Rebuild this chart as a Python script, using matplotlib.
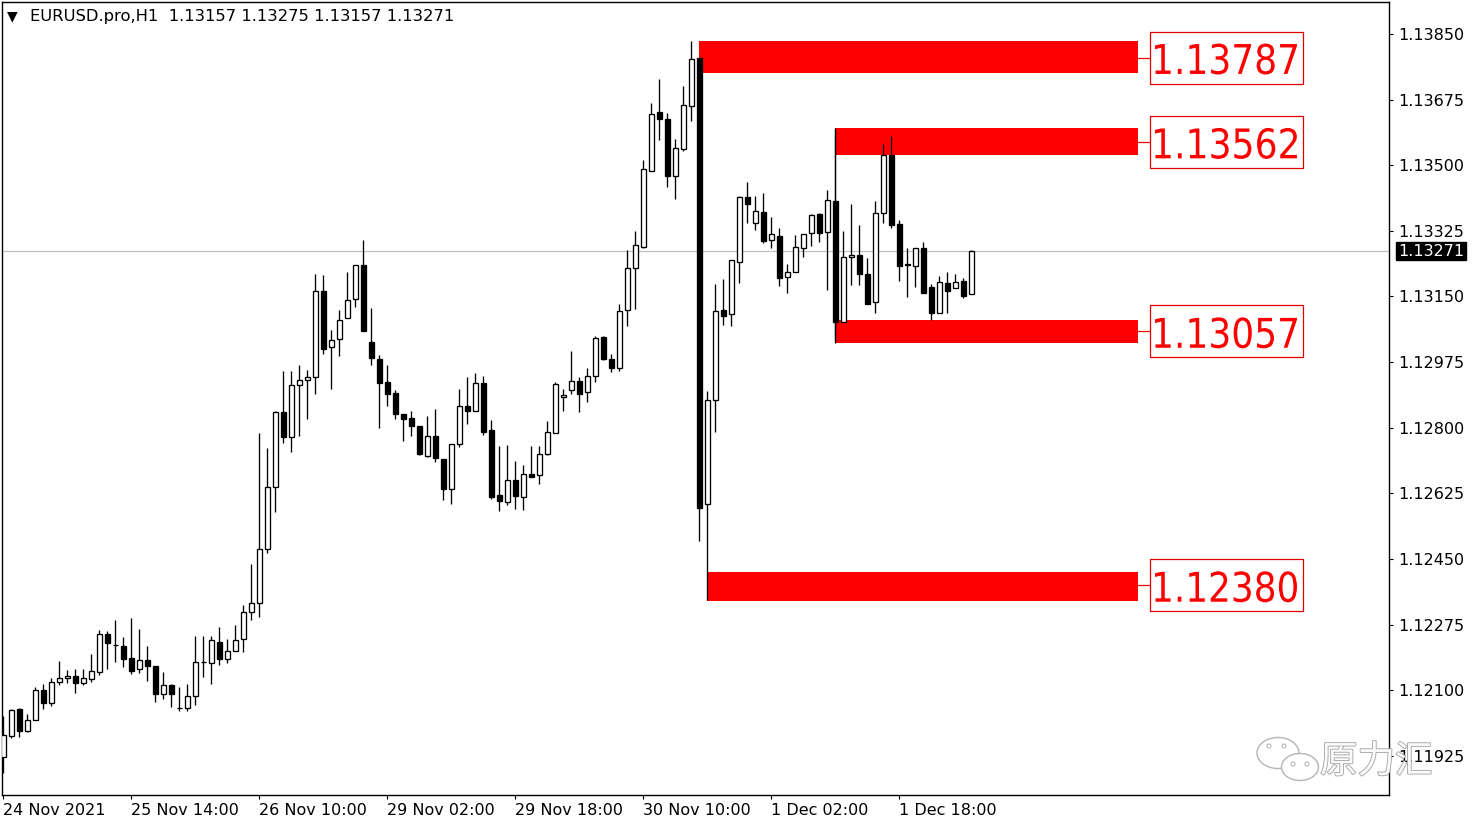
import matplotlib
matplotlib.use('Agg')
import matplotlib.pyplot as plt
import matplotlib.patheffects as pe
import matplotlib.transforms as mtransforms
from matplotlib.patches import Rectangle, Ellipse, PathPatch
from matplotlib.textpath import TextPath
from matplotlib.font_manager import FontProperties
import numpy as np

W, H = 1481, 827

# H1 candles (bar 0 = first visible bar)
opens = [
    1.11921, 1.11979, 1.12050, 1.11992, 1.12022, 1.12101, 1.12067, 1.12121, 1.12132, 1.12137,
    1.12120, 1.12131, 1.12150, 1.12250, 1.12222, 1.12218, 1.12186, 1.12157, 1.12182, 1.12166,
    1.12091, 1.12113, 1.12054, 1.12053, 1.12086, 1.12175, 1.12172, 1.12230, 1.12184, 1.12204,
    1.12236, 1.12310, 1.12332, 1.12478, 1.12641, 1.12841, 1.12776, 1.12913, 1.12926, 1.12935,
    1.13164, 1.13014, 1.13036, 1.13092, 1.13142, 1.13233, 1.13028, 1.12982, 1.12921, 1.12892,
    1.12836, 1.12825, 1.12806, 1.12725, 1.12777, 1.12718, 1.12637, 1.12758, 1.12857, 1.12846,
    1.12918, 1.12793, 1.12620, 1.12603, 1.12660, 1.12616, 1.12678, 1.12673, 1.12729, 1.12787,
    1.12881, 1.12900, 1.12924, 1.12894, 1.12937, 1.13041, 1.12982, 1.12960, 1.13113, 1.13227,
    1.13282, 1.13484, 1.13643, 1.13622, 1.13472, 1.13544, 1.13659, 1.13786, 1.12596, 1.12875,
    1.13113, 1.13102, 1.13242, 1.13414, 1.13345, 1.13375, 1.13300, 1.13310, 1.13201, 1.13216,
    1.13279, 1.13318, 1.13369, 1.13321, 1.13405, 1.13081, 1.13255, 1.13260, 1.13209, 1.13134,
    1.13372, 1.13527, 1.13342, 1.13236, 1.13232, 1.13278, 1.13175, 1.13105, 1.13185, 1.13172,
    1.13191, 1.13157,
]
highs = [
    1.12031, 1.12051, 1.12053, 1.12038, 1.12108, 1.12118, 1.12132, 1.12178, 1.12154, 1.12156,
    1.12156, 1.12197, 1.12261, 1.12258, 1.12287, 1.12242, 1.12293, 1.12263, 1.12218, 1.12166,
    1.12149, 1.12118, 1.12108, 1.12118, 1.12245, 1.12245, 1.12245, 1.12268, 1.12237, 1.12274,
    1.12328, 1.12438, 1.12785, 1.12745, 1.12846, 1.12951, 1.12951, 1.12966, 1.12954, 1.13210,
    1.13207, 1.13060, 1.13113, 1.13214, 1.13233, 1.13300, 1.13118, 1.12993, 1.12967, 1.12900,
    1.12836, 1.12846, 1.12806, 1.12832, 1.12850, 1.12718, 1.12758, 1.12902, 1.12934, 1.12945,
    1.12937, 1.12820, 1.12751, 1.12754, 1.12711, 1.12700, 1.12751, 1.12751, 1.12818, 1.12923,
    1.12903, 1.13004, 1.12935, 1.12958, 1.13044, 1.13044, 1.12996, 1.13129, 1.13273, 1.13324,
    1.13513, 1.13666, 1.13730, 1.13638, 1.13570, 1.13711, 1.13832, 1.13786, 1.12899, 1.13182,
    1.13196, 1.13246, 1.13418, 1.13454, 1.13417, 1.13426, 1.13361, 1.13332, 1.13236, 1.13313,
    1.13316, 1.13370, 1.13372, 1.13434, 1.13596, 1.13324, 1.13396, 1.13340, 1.13252, 1.13404,
    1.13556, 1.13578, 1.13354, 1.13280, 1.13278, 1.13296, 1.13182, 1.13205, 1.13215, 1.13210,
    1.13199, 1.13275,
]
lows = [
    1.11880, 1.11972, 1.11976, 1.11989, 1.12022, 1.12051, 1.12058, 1.12114, 1.12120, 1.12093,
    1.12114, 1.12122, 1.12141, 1.12157, 1.12175, 1.12163, 1.12143, 1.12147, 1.12125, 1.12069,
    1.12077, 1.12056, 1.12044, 1.12045, 1.12061, 1.12136, 1.12118, 1.12168, 1.12172, 1.12204,
    1.12203, 1.12287, 1.12296, 1.12467, 1.12576, 1.12760, 1.12736, 1.12779, 1.12824, 1.12889,
    1.12997, 1.12904, 1.12992, 1.13092, 1.13123, 1.13059, 1.12968, 1.12800, 1.12859, 1.12824,
    1.12765, 1.12779, 1.12728, 1.12723, 1.12709, 1.12608, 1.12597, 1.12749, 1.12811, 1.12846,
    1.12782, 1.12611, 1.12579, 1.12595, 1.12584, 1.12580, 1.12669, 1.12651, 1.12727, 1.12785,
    1.12845, 1.12889, 1.12843, 1.12868, 1.12923, 1.12981, 1.12948, 1.12951, 1.13072, 1.13117,
    1.13279, 1.13484, 1.13568, 1.13441, 1.13411, 1.13537, 1.13617, 1.12497, 1.12341, 1.12789,
    1.13074, 1.13072, 1.13186, 1.13345, 1.13326, 1.13293, 1.13280, 1.13178, 1.13160, 1.13216,
    1.13256, 1.13285, 1.13296, 1.13167, 1.13034, 1.13081, 1.13181, 1.13181, 1.13129, 1.13105,
    1.13345, 1.13333, 1.13192, 1.13149, 1.13176, 1.13160, 1.13087, 1.13105, 1.13105, 1.13172,
    1.13146, 1.13157,
]
closes = [
    1.11982, 1.12047, 1.11992, 1.12020, 1.12101, 1.12067, 1.12121, 1.12132, 1.12137, 1.12120,
    1.12134, 1.12151, 1.12250, 1.12225, 1.12220, 1.12184, 1.12152, 1.12182, 1.12165, 1.12091,
    1.12113, 1.12091, 1.12053, 1.12086, 1.12175, 1.12176, 1.12233, 1.12184, 1.12204, 1.12233,
    1.12310, 1.12333, 1.12476, 1.12641, 1.12841, 1.12776, 1.12913, 1.12926, 1.12935, 1.13164,
    1.13011, 1.13033, 1.13086, 1.13140, 1.13233, 1.13059, 1.12987, 1.12920, 1.12891, 1.12837,
    1.12824, 1.12805, 1.12731, 1.12777, 1.12720, 1.12637, 1.12758, 1.12857, 1.12846, 1.12918,
    1.12790, 1.12616, 1.12605, 1.12660, 1.12619, 1.12678, 1.12669, 1.12729, 1.12788, 1.12916,
    1.12886, 1.12924, 1.12891, 1.12937, 1.13038, 1.12984, 1.12960, 1.13110, 1.13226, 1.13286,
    1.13489, 1.13636, 1.13622, 1.13472, 1.13546, 1.13660, 1.13782, 1.12587, 1.12873, 1.13110,
    1.13099, 1.13246, 1.13414, 1.13396, 1.13378, 1.13298, 1.13316, 1.13200, 1.13214, 1.13281,
    1.13316, 1.13366, 1.13320, 1.13406, 1.13083, 1.13255, 1.13260, 1.13209, 1.13129, 1.13372,
    1.13527, 1.13340, 1.13232, 1.13234, 1.13278, 1.13160, 1.13106, 1.13188, 1.13165, 1.13188,
    1.13152, 1.13271,
]

time_labels = ['24 Nov 2021', '25 Nov 14:00', '26 Nov 10:00', '29 Nov 02:00',
               '29 Nov 18:00', '30 Nov 10:00', '1 Dec 02:00', '1 Dec 18:00']
time_label_bars = [0, 16, 32, 48, 64, 80, 96, 112]
price_ticks = [1.13850, 1.13675, 1.13500, 1.13325, 1.13150, 1.12975,
               1.12800, 1.12625, 1.12450, 1.12275, 1.12100, 1.11925]

# red zones drawn on the chart
zone_levels = [1.13787, 1.13562, 1.13057, 1.12380]
zone_tops = [1.13830, 1.13599, 1.13087, 1.12415]
zone_bottoms = [1.13745, 1.13527, 1.13026, 1.12338]
zone_start_bars = [87, 104, 104, 88]
zone_end_bar = 141.8

symbol = 'EURUSD.pro,H1'
last_bar = (1.13157, 1.13275, 1.13157, 1.13271)
bid = 1.13271

Y_MIN, Y_MAX = 1.11821, 1.13935
X_MIN, X_MAX = -0.1875, 173.19
RED = '#ff0000'


def fx(px):
    return px / W


def fy(py):
    return 1 - py / H


def stretched_text(fig, s, cx, cy, width_px, height_px, color, zorder=6):
    """Draw text as a path scaled to an exact pixel box (display coords, centred on cx, cy)."""
    tp = TextPath((0, 0), s, size=100, prop=FontProperties(family='DejaVu Sans'))
    bb = tp.get_extents()
    tr = (mtransforms.Affine2D()
          .translate(-bb.x0 - bb.width / 2, -bb.y0 - bb.height / 2)
          .scale(width_px / bb.width, height_px / bb.height)
          .translate(cx, cy))
    fig.add_artist(PathPatch(tp, transform=tr, facecolor=color, edgecolor='none', zorder=zorder))


def main():
    plt.rcParams['font.family'] = ['DejaVu Sans']
    fig = plt.figure(figsize=(W / 100, H / 100), dpi=100)
    fig.patch.set_facecolor('white')
    ax = fig.add_axes([fx(2), fy(795), fx(1387), 793 / H])
    ax.set_xlim(X_MIN, X_MAX)
    ax.set_ylim(Y_MIN, Y_MAX)

    o = np.array(opens)
    h = np.array(highs)
    lo = np.array(lows)
    c = np.array(closes)
    x = np.arange(len(o))

    # current bid line
    ax.axhline(bid, color='#c0c0c0', lw=0.9, zorder=1)

    # zones
    for top, bot, start in zip(zone_tops, zone_bottoms, zone_start_bars):
        ax.add_patch(Rectangle((start, bot), zone_end_bar - start, top - bot,
                               facecolor=RED, edgecolor='none', zorder=1.5))
    ax.vlines(zone_start_bars[1], zone_bottoms[2], zone_tops[1], color='black', lw=0.9, zorder=2)

    # candles
    ax.vlines(x, lo, h, color='black', lw=0.95, zorder=2)
    body_lo = np.minimum(o, c)
    body_h = np.abs(c - o)
    fill = np.where(c > o, 'white', 'black')
    ax.bar(x, body_h, bottom=body_lo, width=0.62, color=fill,
           edgecolor='black', linewidth=0.95, zorder=3)

    # price labels for the zones
    box_x0 = (1150 - 3.5) / 8
    box_x1 = (1303 - 3.5) / 8
    half = 26 / 37506
    for lvl in zone_levels:
        ax.plot([zone_end_bar, box_x0], [lvl, lvl], color=RED, lw=0.9, zorder=2)
        ax.add_patch(Rectangle((box_x0, lvl - half), box_x1 - box_x0, 2 * half,
                               facecolor='white', edgecolor='#e00000', lw=0.9, zorder=4))
        cx, cy = ax.transData.transform(((box_x0 + box_x1) / 2, lvl))
        stretched_text(fig, f'{lvl:.5f}', cx - 0.5, cy - 1.5, 142, 31, RED)

    # axes styling
    for s in ax.spines.values():
        s.set_color('black')
        s.set_linewidth(1.0)
    ax.yaxis.tick_right()
    ax.set_yticks(price_ticks)
    ax.set_yticklabels([f'{p:.5f}' for p in price_ticks])
    ax.set_xticks(time_label_bars)
    ax.set_xticklabels(time_labels, ha='left')
    ax.tick_params(axis='y', direction='out', length=3, width=0.8, pad=3.5, labelsize=11.5)
    ax.tick_params(axis='x', direction='out', length=3, width=0.8, pad=2.5, labelsize=11.5)

    # bid label on the price scale
    ax.text(1.0065, bid, f'{bid:.5f}', transform=ax.get_yaxis_transform(),
            color='white', fontsize=11.5, ha='left', va='center', zorder=6, clip_on=False,
            bbox=dict(facecolor='black', edgecolor='black', boxstyle='square,pad=0.1'))

    # header
    fig.text(fx(7), fy(16), '\u25bc', fontsize=10, va='center', ha='left')
    fig.text(fx(30), fy(17), symbol + '  ' + ' '.join(f'{v:.5f}' for v in last_bar),
             fontsize=11.8, va='center', ha='left')

    # watermark
    fig.add_artist(Ellipse((fx(1278), fy(753)), fx(42), 31 / H, transform=fig.transFigure,
                           facecolor='white', edgecolor='#b5b5b5', lw=1.0, zorder=10))
    fig.add_artist(Ellipse((fx(1300), fy(767)), fx(37), 27 / H, transform=fig.transFigure,
                           facecolor='white', edgecolor='#b5b5b5', lw=1.0, zorder=11))
    for dx, dy in [(1269, 746), (1284, 746), (1293, 764), (1307, 764)]:
        fig.add_artist(Ellipse((fx(dx), fy(dy)), fx(4), 4 / H, transform=fig.transFigure,
                               facecolor='white', edgecolor='#b5b5b5', lw=0.8, zorder=12))
    fig.text(fx(1320), fy(762), '原力汇', family=['Noto Sans CJK SC', 'DejaVu Sans'],
             fontsize=27, color='#fafafa', va='center', ha='left', zorder=12,
             path_effects=[pe.withStroke(linewidth=1.3, foreground='#a8a8a8')])

    fig.savefig('out.png', dpi=100)
    plt.close(fig)


if __name__ == '__main__':
    main()
